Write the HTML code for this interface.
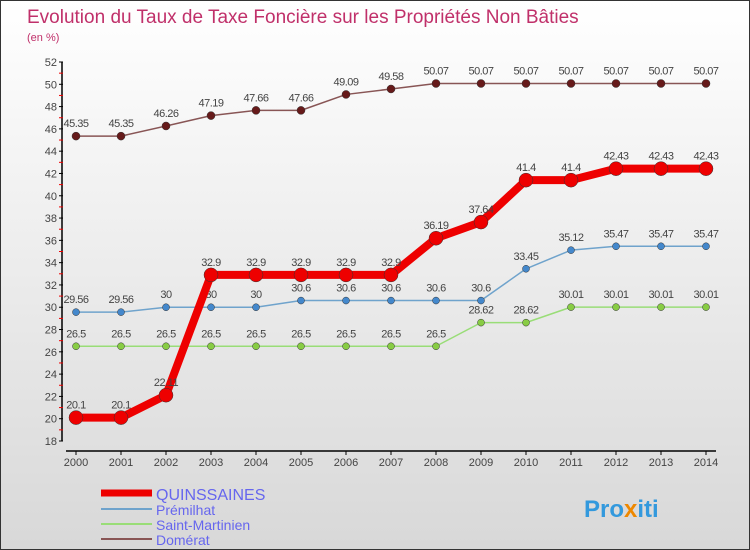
<!DOCTYPE html>
<html><head><meta charset="utf-8"><style>
body{margin:0}
#c{width:750px;height:550px;position:relative;box-sizing:border-box;border:1px solid #333;background:linear-gradient(#fff,#d8d8d8);font-family:"Liberation Sans",sans-serif;overflow:hidden}
text{font-family:"Liberation Sans",sans-serif}
</style></head><body>
<div id="c">
<svg id="s" width="750" height="550">
<text x="26" y="22" font-size="19" fill="#c0306a">Evolution du Taux de Taxe Foncière sur les Propriétés Non Bâties</text>
<text x="26" y="40" font-size="11" fill="#c0306a">(en %)</text>
<g id="axes"></g><g id="series"></g>
<g>
<line x1="100" y1="492" x2="151" y2="492" stroke="#e00" stroke-width="7"/>
<text x="155" y="499" font-size="16" fill="#6666ee">QUINSSAINES</text>
<line x1="100" y1="508" x2="151" y2="508" stroke="#6fa3cc" stroke-width="2"/>
<text x="155" y="514" font-size="14" fill="#6666ee">Prémilhat</text>
<line x1="100" y1="523" x2="151" y2="523" stroke="#99dd77" stroke-width="2"/>
<text x="155" y="529" font-size="14" fill="#6666ee">Saint-Martinien</text>
<line x1="100" y1="538" x2="151" y2="538" stroke="#885555" stroke-width="2"/>
<text x="155" y="544" font-size="14" fill="#6666ee">Domérat</text>
</g>
<text x="583" y="516" font-size="24" font-weight="bold" fill="#3399dd">Pro<tspan fill="#ee8800">x</tspan>iti</text>
</svg>
</div>
<script>
const years=[2000,2001,2002,2003,2004,2005,2006,2007,2008,2009,2010,2011,2012,2013,2014];
const quinssaines=[20.1,20.1,22.11,32.9,32.9,32.9,32.9,32.9,36.19,37.64,41.4,41.4,42.43,42.43,42.43];
const premilhat=[29.56,29.56,30,30,30,30.6,30.6,30.6,30.6,30.6,33.45,35.12,35.47,35.47,35.47];
const saintMartinien=[26.5,26.5,26.5,26.5,26.5,26.5,26.5,26.5,26.5,28.62,28.62,30.01,30.01,30.01,30.01];
const domerat=[45.35,45.35,46.26,47.19,47.66,47.66,49.09,49.58,50.07,50.07,50.07,50.07,50.07,50.07,50.07];
const yTicks=[18,20,22,24,26,28,30,32,34,36,38,40,42,44,46,48,50,52];
const NS="http://www.w3.org/2000/svg";
const xs=i=>75+i*45;
const ys=v=>440-(v-18)*(379/34);
function mk(t,a,p){const e=document.createElementNS(NS,t);for(const k in a)e.setAttribute(k,a[k]);p.appendChild(e);return e;}
const ax=document.getElementById('axes');
let l=mk('line',{x1:61,y1:ys(52),x2:61,y2:ys(18),stroke:'#000','stroke-width':1.5},ax);


l=mk('line',{x1:65,y1:450,x2:715,y2:450,stroke:'#000','stroke-width':1.5},ax);


yTicks.forEach(v=>{
 mk('line',{x1:58,y1:ys(v),x2:62,y2:ys(v),stroke:'#000'},ax);
 if(v<52)mk('line',{x1:58,y1:ys(v+1),x2:62,y2:ys(v+1),stroke:'#e00'},ax);
 const t=mk('text',{x:56,y:ys(v)+4,'font-size':11,fill:'#444','text-anchor':'end'},ax);t.textContent=v;
 
 
});
years.forEach((y,i)=>{
 mk('line',{x1:xs(i),y1:450,x2:xs(i),y2:454,stroke:'#000'},ax);
 const t=mk('text',{x:xs(i),y:465,'font-size':11,fill:'#444','text-anchor':'middle'},ax);t.textContent=y;
 
 
});
const sg=document.getElementById('series');
function series(vals,color,w,r,name,dot){
 const g=mk('g',{},sg);
 
 
 const pl=mk('polyline',{points:vals.map((v,i)=>xs(i)+','+ys(v)).join(' '),fill:'none',stroke:color,'stroke-width':w,'stroke-linejoin':'round'},g);
 
 
 vals.forEach((v,i)=>{
  const c=mk('circle',{cx:xs(i),cy:ys(v),r:r,fill:dot,stroke:'#333','stroke-width':0.5},g);
  
  
  const t=mk('text',{x:xs(i),y:ys(v)-9,'font-size':11,fill:'#444','text-anchor':'middle','letter-spacing':'-0.5'},g);t.textContent=v;
  
  
 });
}
series(saintMartinien,'#99dd77',1.5,3.5,'saint-martinien','#88cc44');
series(premilhat,'#6fa3cc',1.5,3.5,'premilhat','#4488cc');
series(domerat,'#885555',1.5,4,'domerat','#661a1a');
series(quinssaines,'#e00',8,7,'quinssaines','#e00');
</script>
</body></html>
